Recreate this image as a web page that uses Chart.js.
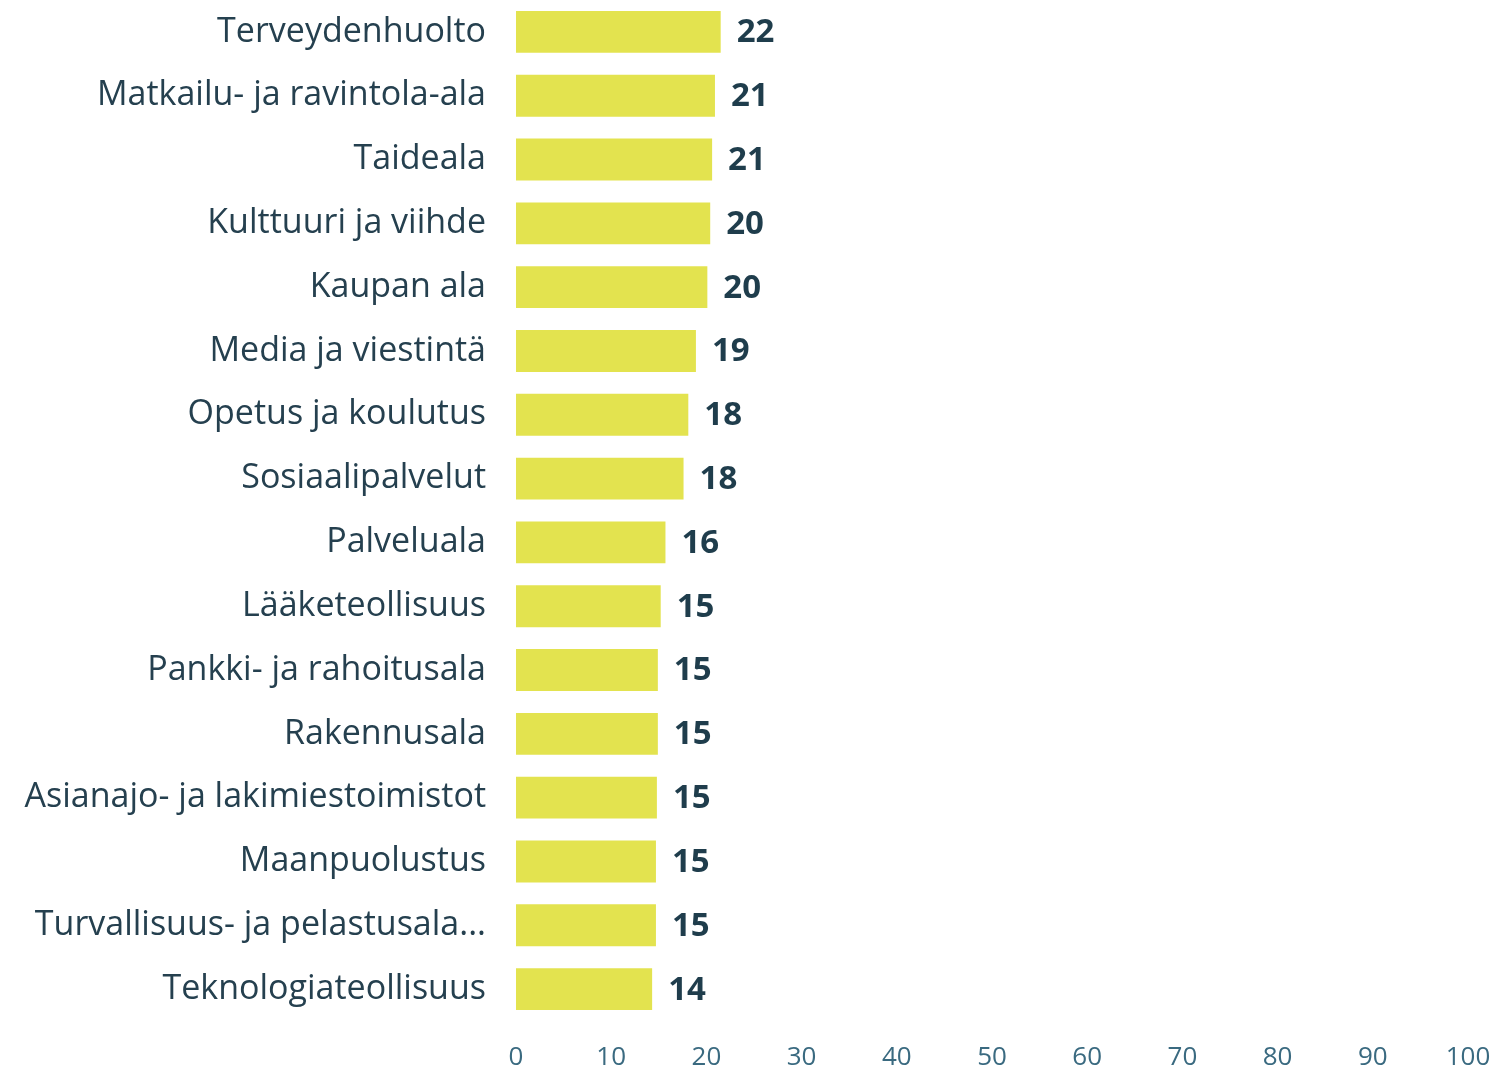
<!DOCTYPE html>
<html>
<head>
<meta charset="utf-8">
<script src="https://cdn.jsdelivr.net/npm/chart.js@4"></script>
<style>
  html, body { margin: 0; padding: 0; background: #fff; }
  #wrap { width: 1496px; height: 1068px; position: relative; }
</style>
</head>
<body>
<div id="wrap"><canvas id="barChart"></canvas></div>
<script>
const categories = [
  'Terveydenhuolto', 'Matkailu- ja ravintola-ala', 'Taideala', 'Kulttuuri ja viihde',
  'Kaupan ala', 'Media ja viestintä', 'Opetus ja koulutus', 'Sosiaalipalvelut',
  'Palveluala', 'Lääketeollisuus', 'Pankki- ja rahoitusala', 'Rakennusala',
  'Asianajo- ja lakimiestoimistot', 'Maanpuolustus', 'Turvallisuus- ja pelastusala...',
  'Teknologiateollisuus'
];
const values = [21.5, 20.9, 20.6, 20.4, 20.1, 18.9, 18.1, 17.6, 15.7, 15.2, 14.9, 14.9, 14.8, 14.7, 14.7, 14.3];
const xTicks = [0, 10, 20, 30, 40, 50, 60, 70, 80, 90, 100];

const fontFamily = "'Open Sans', 'Noto Sans', sans-serif";

// draws the rounded value to the right of each bar
const valueLabels = {
  id: 'valueLabels',
  afterDatasetsDraw(chart) {
    const ctx = chart.ctx;
    const meta = chart.getDatasetMeta(0);
    ctx.save();
    ctx.font = 'bold 33px ' + fontFamily;
    ctx.fillStyle = '#1f3d4c';
    ctx.textAlign = 'left';
    ctx.textBaseline = 'middle';
    meta.data.forEach((bar, i) => {
      ctx.fillText(String(Math.round(values[i])), bar.x + 16, bar.y + 1);
    });
    ctx.restore();
  }
};

const ctx = document.getElementById('barChart').getContext('2d');
const barChart = new Chart(ctx, {
  type: 'bar',
  data: {
    labels: categories,
    datasets: [{
      data: values,
      backgroundColor: '#e3e34f',
      borderWidth: 0,
      barPercentage: 0.656,
      categoryPercentage: 1
    }]
  },
  plugins: [valueLabels],
  options: {
    indexAxis: 'y',
    responsive: true,
    maintainAspectRatio: false,
    animation: false,
    layout: { padding: { top: -6, right: 0, bottom: 0, left: 0 } },
    plugins: {
      legend: { display: false },
      tooltip: { enabled: false }
    },
    scales: {
      x: {
        min: 0,
        max: 100,
        afterBuildTicks: scale => { scale.ticks = xTicks.map(v => ({ value: v })); },
        afterFit: scale => {
          scale.height = 47;
          scale.paddingLeft = 0;
          scale.paddingRight = 28;
        },
        grid: { display: false, drawTicks: false },
        border: { display: false },
        ticks: {
          color: '#3a6a80',
          padding: 21,
          font: { family: fontFamily, size: 26 }
        }
      },
      y: {
        afterFit: scale => {
          scale.width = 516;
          scale.paddingTop = 0;
          scale.paddingBottom = 0;
        },
        grid: { display: false, drawTicks: false },
        border: { display: false },
        ticks: {
          color: '#25404f',
          padding: 30,
          autoSkip: false,
          font: { family: fontFamily, size: 34 }
        }
      }
    }
  }
});
</script>
</body>
</html>
